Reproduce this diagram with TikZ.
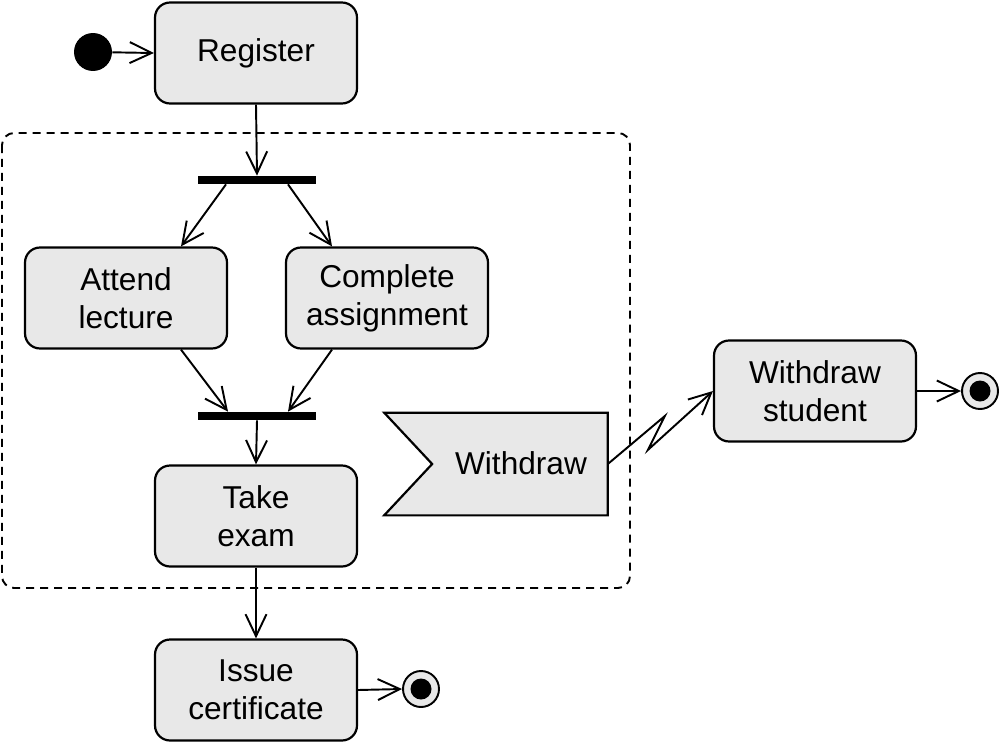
\documentclass[tikz,border=0pt]{standalone}
\usepackage{fontspec}
\setmainfont{Liberation Sans}
\usetikzlibrary{arrows.meta,calc}
\definecolor{boxgray}{HTML}{E8E8E8}
\begin{document}
\begin{tikzpicture}[x=0.02cm,y=-0.02cm,
  every node/.style={font=\fontsize{18}{21.6}\selectfont},
  actbox/.style={draw, line width=1.25pt, fill=boxgray, rounded corners=0.3cm,
    minimum width=4.04cm, minimum height=2.02cm, align=center, inner sep=0pt},
  flow/.style={line width=1.1pt, -{Straight Barb[length=0.44cm,width=0.42cm,line width=1.1pt]}},
  bar/.style={fill=black, draw=none, minimum width=2.38cm, minimum height=0.16cm, inner sep=0pt},
  startnode/.style={circle, fill=black, minimum size=0.76cm, inner sep=0pt},
  endnode/.style={circle, draw, line width=1.1pt, fill=boxgray, minimum size=0.72cm, inner sep=0pt,
    path picture={\fill[black] (path picture bounding box.center) circle (0.21cm);}},
  region/.style={draw, line width=1.1pt, dash pattern=on 0.16cm off 0.12cm, rounded corners=0.24cm}
]
\useasboundingbox (0,0) rectangle (1000,744);

% interruptible region
\draw[region] (2,133) rectangle (630,588);

\node[startnode] (init) at (93,52) {};
\node[actbox] (reg) at (256,53) {Register};
\node[bar] (fork) at (257,180) {};
\node[actbox] (att) at (126,298) {Attend\\lecture};
\node[actbox] (asg) at (387,298) {Complete\\assignment};
\node[bar] (join) at (257,416) {};
\node[actbox] (exam) at (256,516) {Take\\exam};
\node[actbox] (cert) at (256,690) {Issue\\certificate};
\node[endnode] (fin1) at (421,689) {};
\node[actbox] (ws) at (815,391) {Withdraw\\student};
\node[endnode] (fin2) at (980,391) {};

% accept event "Withdraw"
\node[minimum width=4.46cm, minimum height=2.04cm, inner sep=0pt] (wd) at (496,464) {};
\draw[line width=1.25pt, fill=boxgray] (wd.north west) -- (wd.north east) -- (wd.south east)
  -- (wd.south west) -- ([xshift=0.96cm]wd.west) -- cycle;
\node (wdtext) at (521,463) {Withdraw};

% flows
\draw[flow] (init) -- (reg.west);
\draw[flow] (reg.south) -- (fork.north);
\draw[flow] ([xshift=-0.62cm]fork.south) -- ([xshift=1.1cm]att.north);
\draw[flow] ([xshift=0.62cm]fork.south) -- ([xshift=-1.1cm]asg.north);
\draw[flow] ([xshift=1.1cm]att.south) -- ([xshift=-0.58cm]join.north);
\draw[flow] ([xshift=-1.1cm]asg.south) -- ([xshift=0.62cm]join.north);
\draw[flow] (join.south) -- (exam.north);
\draw[flow] (exam.south) -- (cert.north);
\draw[flow] (cert.east) -- (fin1.west);
\draw[flow] (wd.east) -- ++(57,-48) -- ++(-17,34) -- (ws.west);
\draw[flow] (ws.east) -- (fin2.west);
\end{tikzpicture}
\end{document}
